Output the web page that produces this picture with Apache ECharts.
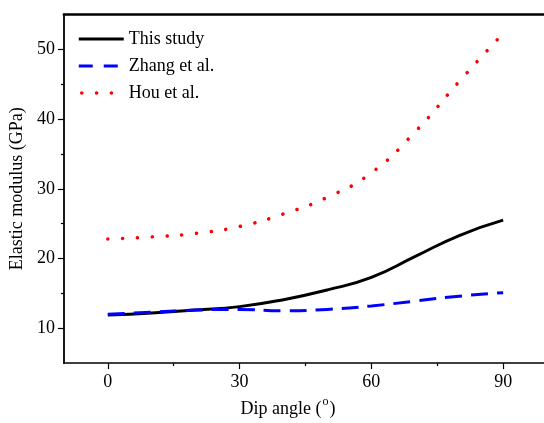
<!DOCTYPE html>
<html>
<head>
<meta charset="utf-8">
<script src="https://cdn.jsdelivr.net/npm/echarts@6/dist/echarts.min.js"></script>
<style>html,body{margin:0;padding:0;background:#fff;}#c{width:544px;height:423px;}</style>
</head>
<body>
<div id="c"></div>
<script>
const dipAngles = [0, 10, 20, 30, 40, 50, 60, 70, 80, 90];
const thisStudy = [11.9, 12.2, 12.6, 13.1, 14.1, 15.5, 17.3, 20.3, 23.3, 25.5];
const zhang = [12.0, 12.3, 12.6, 12.7, 12.5, 12.7, 13.2, 13.9, 14.6, 15.1];
const hou = [22.8, 23.1, 23.6, 24.6, 26.4, 28.8, 32.3, 38.2, 45.4, 52.3];
const xMajorTicks = [0, 30, 60, 90];
const xMinorTicks = [15, 45, 75];
const yMajorTicks = [10, 20, 30, 40, 50];
const yMinorTicks = [15, 25, 35, 45];
const seriesNames = ['This study', 'Zhang et al.', 'Hou et al.'];

const pairs = arr => dipAngles.map((x, i) => [x, arr[i]]);
const font = 'Liberation Serif';
const X_MIN = -10, X_MAX = 99.3, Y_MIN = 5, Y_MAX = 55;

const chart = echarts.init(document.getElementById('c'), null, {renderer: 'canvas'});
chart.setOption({
  animation: false,
  backgroundColor: '#fff',
  grid: {left: 62, top: 14.5, bottom: 53.5, right: 0},
  legend: {
    left: 72, top: 25, orient: 'vertical', itemWidth: 45, itemHeight: 14, itemGap: 9,
    itemStyle: {opacity: 0},
    lineStyle: {width: 3},
    textStyle: {fontFamily: font, fontSize: 18, color: '#000'},
    data: [
      {name: seriesNames[0]},
      {name: seriesNames[1], lineStyle: {type: [14, 11]}},
      {name: seriesNames[2], lineStyle: {width: 3.5, dashOffset: 11.8}}
    ]
  },
  xAxis: [{
    type: 'value', min: X_MIN, max: X_MAX,
    name: '{a|Dip angle (}{b|o}{a|)}', nameLocation: 'middle', nameGap: 29,
    nameTextStyle: {fontFamily: font, fontSize: 18, color: '#000', padding: [0, 32, 0, 0],
      rich: {a: {fontFamily: font, fontSize: 18, color: '#000', lineHeight: 22, verticalAlign: 'bottom'},
             b: {fontFamily: font, fontSize: 12, color: '#000', lineHeight: 12, verticalAlign: 'top', padding: [0, 1, 0, 1]}}},
    axisLine: {onZero: false, lineStyle: {color: '#000', width: 1.5}},
    axisTick: {customValues: xMajorTicks, length: 6, lineStyle: {color: '#000', width: 1.2}},
    axisLabel: {customValues: xMajorTicks, fontFamily: font, fontSize: 18, color: '#000', margin: 10},
    splitLine: {show: false}
  }, {
    type: 'value', min: X_MIN, max: X_MAX, position: 'top',
    axisLine: {show: true, onZero: false, lineStyle: {color: '#000', width: 2.5}},
    axisTick: {show: false}, axisLabel: {show: false}, splitLine: {show: false}
  }, {
    type: 'value', min: X_MIN, max: X_MAX, position: 'bottom',
    axisLine: {show: false, onZero: false},
    axisTick: {customValues: xMinorTicks, length: 3, lineStyle: {color: '#000', width: 1.2}},
    axisLabel: {show: false}, splitLine: {show: false}
  }],
  yAxis: [{
    type: 'value', min: Y_MIN, max: Y_MAX,
    name: 'Elastic modulus (GPa)', nameLocation: 'middle', nameGap: 32,
    nameTextStyle: {fontFamily: font, fontSize: 18, color: '#000'},
    axisLine: {show: true, onZero: false, lineStyle: {color: '#000', width: 1.8}},
    axisTick: {customValues: yMajorTicks, length: 6, lineStyle: {color: '#000', width: 1.2}},
    axisLabel: {customValues: yMajorTicks, fontFamily: font, fontSize: 18, color: '#000', margin: 9},
    splitLine: {show: false}
  }, {
    type: 'value', min: Y_MIN, max: Y_MAX, position: 'left',
    axisLine: {show: false, onZero: false},
    axisTick: {customValues: yMinorTicks, length: 3, lineStyle: {color: '#000', width: 1.2}},
    axisLabel: {show: false}, splitLine: {show: false}
  }],
  series: [
    {name: seriesNames[0], type: 'line', data: pairs(thisStudy), smooth: true, symbol: 'none',
     lineStyle: {color: '#000', width: 3}, itemStyle: {color: '#000'}},
    {name: seriesNames[1], type: 'line', data: pairs(zhang), smooth: true, symbol: 'none',
     lineStyle: {color: '#0000ff', width: 3, type: [17, 9]}, itemStyle: {color: '#0000ff'}},
    {name: seriesNames[2], type: 'line', data: pairs(hou), smooth: true, symbol: 'none',
     lineStyle: {color: '#ff0000', width: 3.5, type: [0.1, 14.7], cap: 'round'}, itemStyle: {color: '#ff0000'}}
  ]
});
</script>
</body>
</html>
